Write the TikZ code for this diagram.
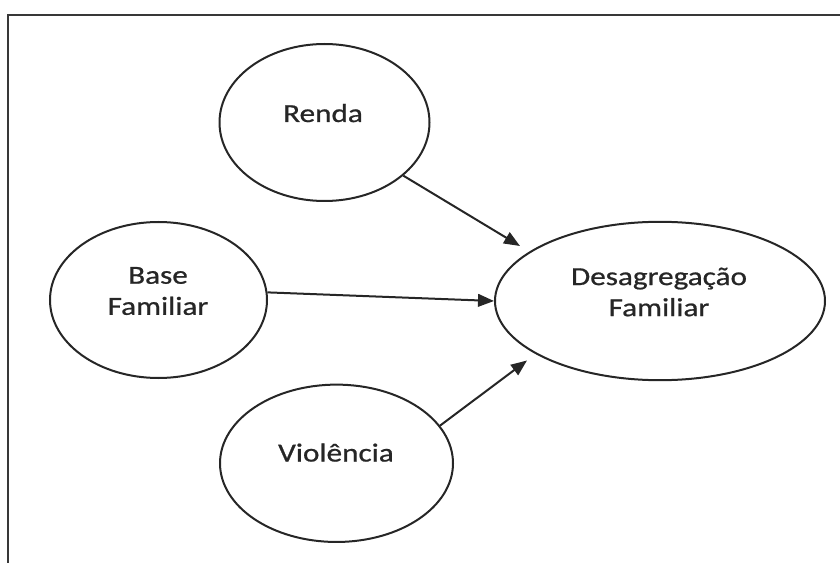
\documentclass[tikz,border=0pt]{standalone}
\usepackage{fontspec}
\setmainfont{Carlito}[FakeStretch=1.2,FakeBold=0.8]
\usetikzlibrary{shapes.geometric,arrows.meta}
\tikzset{
  bubble/.style={ellipse, draw=black!85, line width=1.5pt, inner sep=0pt},
  lbl/.style={font=\fontsize{19.5}{23.3}\selectfont, text=black!85, align=center, inner sep=0pt},
  arr/.style={draw=black!85, line width=1.5pt, -{Triangle[length=12pt,width=9.5pt]}},
  frame/.style={draw=black!78, line width=2pt}
}
\begin{document}
\begin{tikzpicture}[x=0.75pt,y=-0.75pt]
\useasboundingbox (0,0) rectangle (840,563);
% frame (only top and left edges visible)
\coordinate (fc) at (8,15);
\coordinate (ftr) at (842,15);
\coordinate (fbl) at (8,565);
\draw[frame] (ftr) -- (fc) -- (fbl);
% ellipses
\node[bubble, minimum width=157.5pt, minimum height=117.75pt] (renda) at (324.5,122.5) {};
\node[bubble, minimum width=162.75pt, minimum height=117pt] (base) at (158.5,300) {};
\node[bubble, minimum width=174.75pt, minimum height=118pt] (viol) at (336.5,463.3) {};
\node[bubble, minimum width=247.5pt, minimum height=118.8pt] (desag) at (660,301) {};
% labels
\node[lbl, anchor=base] (rendaL) at (323,122) {Renda};
\node[lbl] (baseL) at (158,291) {Base\\Familiar};
\node[lbl, anchor=base] (violL) at (336,461.5) {Violência};
\node[lbl] (desagL) at (659,292) {Desagregação\\Familiar};
% arrow tips
\coordinate (t1) at (520,246);
\coordinate (t3) at (527,360.5);
\draw[arr] (renda.-34) -- (t1);
\draw[arr] (base.4) -- (desag.west);
\draw[arr] (viol.20) -- (t3);
\end{tikzpicture}
\end{document}
